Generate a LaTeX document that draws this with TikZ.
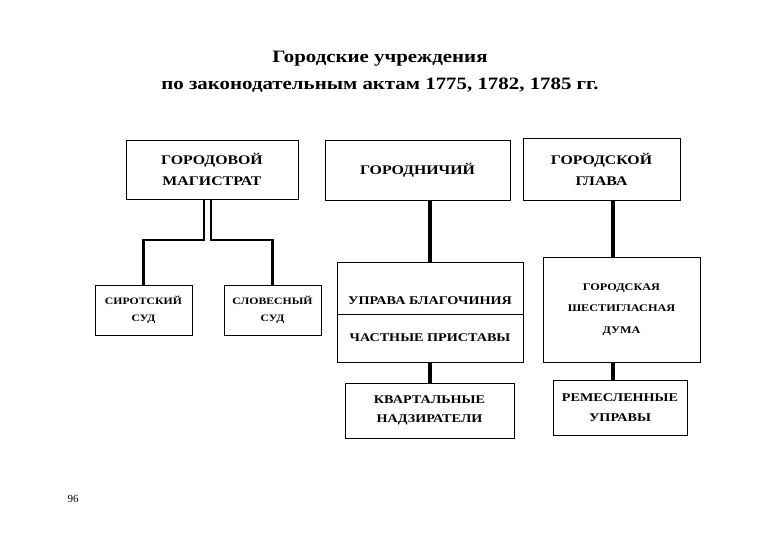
\documentclass[tikz,border=0pt]{standalone}
\usepackage{fontspec}
\setmainfont{Liberation Serif}[FakeStretch=1.2]
\newfontfamily\plainfont{Liberation Serif}
\begin{document}
\begin{tikzpicture}[x=1pt,y=-1pt,
  box/.style={draw,line width=0.9pt,rectangle,inner sep=0pt,align=center,font=\bfseries},
  big/.style={font=\fontsize{13.2}{21}\selectfont\bfseries},
  sud/.style={font=\fontsize{9.8}{17}\selectfont\bfseries},
  small/.style={font=\fontsize{11.8}{19.5}\selectfont\bfseries},
  conn/.style={line width=3.2pt},
  thin/.style={line width=2.1pt}]
\useasboundingbox (0,0) rectangle (780,540);
\node[align=center,font=\fontsize{17.4}{27}\selectfont\bfseries] (title) at (380,72)
  {Городские учреждения\\по законодательным актам 1775, 1782, 1785 гг.};
\node[box,big,minimum width=172pt,minimum height=59pt] (mag) at (212,169.5) {ГОРОДОВОЙ\\МАГИСТРАТ};
\node[box,big,minimum width=185pt,minimum height=60pt] (gor) at (417.5,170) {ГОРОДНИЧИЙ};
\node[box,big,minimum width=157pt,minimum height=62pt] (glava) at (601.5,169) {ГОРОДСКОЙ\\ГЛАВА};
\node[box,sud,minimum width=97pt,minimum height=50pt] (sirot) at (143.5,310) {СИРОТСКИЙ\\СУД};
\node[box,sud,minimum width=97pt,minimum height=50pt] (slov) at (272.5,310) {СЛОВЕСНЫЙ\\СУД};
\node[box,minimum width=186pt,minimum height=100pt] (uprava) at (430,312) {};
\node[small] (blag) at (430,301) {УПРАВА БЛАГОЧИНИЯ};
\node[small] (prist) at (430,338) {ЧАСТНЫЕ ПРИСТАВЫ};
\coordinate (divy) at (0,314);
\draw[line width=0.9pt] (uprava.west |- divy) -- (uprava.east |- divy);
\node[box,font=\fontsize{10.2}{21.5}\selectfont\bfseries,minimum width=157pt,minimum height=105pt] (duma) at (621.5,309.5) {ГОРОДСКАЯ\\ШЕСТИГЛАСНАЯ\\ДУМА};
\node[box,small,minimum width=169pt,minimum height=55pt] (kvart) at (429.5,410.5) {КВАРТАЛЬНЫЕ\\НАДЗИРАТЕЛИ};
\node[box,small,minimum width=134pt,minimum height=55pt] (rem) at (620,407.5) {РЕМЕСЛЕННЫЕ\\УПРАВЫ};
\node[font=\fontsize{11}{13}\plainfont] (page) at (73,499) {96};
% connectors
\coordinate (jl) at (204,240);
\coordinate (jr) at (211,240);
\draw[thin] (mag.south -| jl) -- (jl) -| (sirot.north);
\draw[thin] (mag.south -| jr) -- (jr) -| (slov.north);
\draw[conn] (uprava.north) -- (uprava.north |- gor.south);
\draw[conn] (kvart.north -| uprava.south) -- (uprava.south);
\coordinate (rx) at (613,0);
\draw[conn] (glava.south -| rx) -- (duma.north -| rx);
\draw[conn] (duma.south -| rx) -- (rem.north -| rx);
\end{tikzpicture}
\end{document}
